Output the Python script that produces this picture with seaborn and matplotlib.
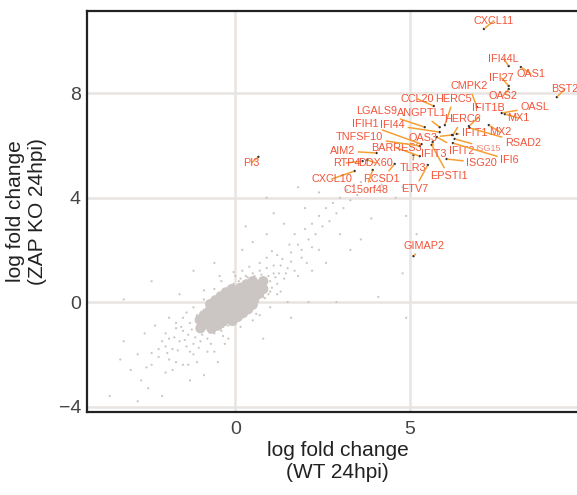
import matplotlib
matplotlib.use("Agg")
import matplotlib.pyplot as plt
import seaborn as sns
import pandas as pd

# labelled genes: point position and label position (log fold change)
genes = ["CXCL11", "IFI44L", "OAS1", "IFI27", "OAS2", "BST2", "CMPK2", "CCL20",
         "HERC5", "LGALS9", "ANGPTL1", "IFIT1B", "OASL", "MX1", "HERC6", "IFIT1",
         "OAS3", "IFIT2", "ISG15", "IFI6", "ISG20", "RSAD2", "MX2", "EPSTI1",
         "IFIT3", "BARRES3", "TNFSF10", "IFIH1", "IFI44", "AIM2", "PI3", "RTP4",
         "DDX60", "TLR3", "CXCL10", "RCSD1", "C15orf48", "ETV7", "GIMAP2"]
gene_wt = [7.13, 7.84, 8.19, 7.84, 7.84, 9.22, 6.93, 5.69,
           6.01, 5.43, 5.86, 6.70, 7.64, 7.73, 6.24, 6.35,
           6.21, 5.78, 6.29, 6.24, 6.06, 6.72, 7.27, 5.63,
           5.66, 5.29, 5.29, 5.34, 5.86, 4.05, 0.66, 3.65,
           3.79, 5.11, 3.42, 4.57, 3.94, 5.52, 5.11]
gene_ko = [10.46, 9.04, 9.00, 8.28, 8.16, 7.85, 7.47, 7.51,
           6.78, 6.70, 6.70, 6.74, 7.24, 7.20, 6.40, 6.44,
           6.40, 6.32, 6.25, 6.09, 5.48, 6.67, 6.78, 6.02,
           6.13, 5.59, 5.98, 6.05, 6.51, 5.71, 5.56, 5.40,
           5.44, 5.63, 5.02, 5.29, 5.06, 5.25, 1.76]
label_wt = [7.41, 7.70, 8.48, 7.64, 7.67, 9.45, 6.70, 5.23,
            6.26, 4.05, 5.34, 7.27, 8.59, 8.13, 6.52, 6.87,
            5.37, 6.49, 7.24, 7.87, 7.07, 8.25, 7.59, 6.12,
            5.69, 4.63, 3.56, 3.74, 4.51, 3.07, 0.46, 3.19,
            4.02, 5.09, 2.76, 4.20, 3.74, 5.14, 5.40]
label_ko = [10.77, 9.31, 8.74, 8.58, 7.89, 8.16, 8.28, 7.78,
            7.78, 7.32, 7.24, 7.43, 7.47, 7.05, 7.01, 6.48,
            6.28, 5.79, 5.90, 5.44, 5.33, 6.09, 6.51, 4.83,
            5.67, 5.90, 6.32, 6.82, 6.78, 5.79, 5.33, 5.33,
            5.33, 5.13, 4.71, 4.71, 4.29, 4.33, 2.15]

# background genes
# dense centre of the cloud
core_pts = [(-1.0, -1.0),
            (-0.85, -0.85), (-1.02, -0.68), (-0.68, -1.02),
            (-0.7, -0.7), (-0.9, -0.5), (-0.5, -0.9),
            (-0.55, -0.55), (-0.75, -0.35), (-0.35, -0.75),
            (-0.4, -0.4), (-0.6, -0.2), (-0.2, -0.6), (-0.72, -0.08), (-0.08, -0.72),
            (-0.25, -0.25), (-0.45, -0.05), (-0.05, -0.45), (-0.57, 0.07), (0.07, -0.57),
            (-0.1, -0.1), (-0.3, 0.1), (0.1, -0.3), (-0.42, 0.22), (0.22, -0.42),
            (0.05, 0.05), (-0.15, 0.25), (0.25, -0.15), (-0.27, 0.37), (0.37, -0.27),
            (0.2, 0.2), (0.0, 0.4), (0.4, 0.0), (-0.1, 0.5), (0.5, -0.1),
            (0.35, 0.35), (0.15, 0.55), (0.55, 0.15),
            (0.5, 0.5), (0.32, 0.68), (0.68, 0.32),
            (0.65, 0.65), (0.5, 0.8), (0.8, 0.5),
            (0.8, 0.8)]
# scattered genes around it
bg_pts = [(-1.6, -1.5), (-1.5, -1.1), (-1.4, -1.7), (-1.3, -0.8), (-1.2, -1.6),
          (-1.1, -0.5), (-1.0, -1.5), (-0.9, -0.3), (-0.8, -1.4), (-0.7, -0.1),
          (-0.6, -1.2), (-0.5, 0.2), (-0.4, -1.1), (-0.3, 0.4), (-0.2, -0.9),
          (-0.1, 0.6), (0.0, -0.7), (0.1, 0.8), (0.2, -0.5), (0.3, 1.0),
          (0.4, -0.3), (0.5, 1.1), (0.6, -0.1), (0.7, 1.2), (0.8, 0.2),
          (0.9, 1.3), (1.0, 0.4), (1.1, 1.1), (1.2, 0.7), (1.3, 1.4),
          (-1.7, -1.0), (-1.8, -1.8), (-0.9, 0.1), (-0.6, 0.5), (0.2, 1.2),
          (1.0, -0.2), (0.7, -0.5), (-0.2, -1.4), (-1.2, -2.0), (1.4, 0.9),
          (1.5, 1.3), (-1.9, -1.4), (-0.4, 0.8), (0.0, 1.0), (0.5, -0.7),
          (-0.8, -1.9), (1.2, 1.8), (0.9, 1.7), (-1.4, -0.4), (-2.0, -1.7),
          (-1.25, -1.05), (-1.15, -1.35), (-1.05, -0.75), (-0.95, -1.25), (-0.85, -0.35),
          (-0.75, -1.15), (-0.65, 0.05), (-0.55, -1.05), (-0.45, 0.35), (-0.35, -0.95),
          (-0.25, 0.5), (-0.15, -0.8), (-0.05, 0.7), (0.05, -0.6), (0.15, 0.9),
          (0.25, -0.45), (0.35, 0.95), (0.45, -0.35), (0.55, 1.0), (0.65, 0.0),
          (0.75, 1.05), (0.85, 0.15), (0.95, 1.0), (1.05, 0.55), (1.15, 0.95),
          (1.0, 0.8), (1.1, 1.4), (1.25, 1.1), (0.95, 0.3), (-1.35, -1.25),
          (-1.45, -1.45), (-1.55, -0.95), (-1.3, -1.9), (-1.65, -1.85), (-1.75, -1.35),
          (-2.1, -1.5), (-2.2, -2.1), (-1.95, -1.95), (-1.05, -1.75), (-0.7, -1.6),
          (-0.35, -1.3), (0.15, -0.95), (0.6, -0.45), (1.3, 0.4), (1.45, 1.1),
          (1.6, 1.55), (1.35, 1.65), (1.05, 1.95), (0.7, 1.5), (0.4, 1.35),
          (-0.05, 1.15), (-0.45, 1.0), (-0.9, 0.45), (-1.2, -0.2), (-1.5, -0.6),
          (1.7, 1.2), (1.9, 2.0), (2.05, 1.5), (2.2, 2.1), (1.55, 2.2),
          (-2.4, -1.95), (-2.55, -2.5), (-1.8, -2.6), (-1.35, -2.4),
          (-3.6, -3.6), (-2.5, -3.3), (-2.1, -3.6), (-2.7, -3.0), (-3.0, -2.6),
          (-3.3, -2.2), (-2.8, -2.0), (-2.4, -2.4), (-2.2, -1.8), (-2.0, -2.7),
          (-1.9, -2.2), (-1.7, -2.3), (-1.5, -2.4), (-1.1, -2.3), (-0.9, -2.8),
          (-0.6, -1.9), (-0.5, -2.3), (-0.3, -1.6), (-2.6, -1.2), (-2.3, -0.9),
          (-1.9, -0.6), (-3.2, -1.5), (-2.0, -1.2), (-1.7, -0.8), (-3.2, 0.1),
          (-1.6, 0.3), (-2.4, 0.8), (-1.2, 1.2), (-0.6, 1.5), (1.6, 1.9),
          (1.7, 2.6), (1.8, 2.2), (1.9, 1.7), (2.0, 2.8), (2.1, 2.4),
          (2.2, 3.0), (2.3, 2.6), (2.4, 3.3), (2.5, 2.9), (2.6, 3.6),
          (2.7, 3.1), (2.8, 3.8), (2.9, 3.4), (3.0, 4.0), (3.1, 3.6),
          (3.2, 4.3), (3.3, 3.9), (3.4, 4.5), (3.5, 4.1), (3.6, 4.6),
          (3.8, 4.3), (4.0, 4.8), (4.2, 4.5), (3.0, 2.6), (2.4, 2.0),
          (1.8, 1.0), (0.2, 2.0), (0.5, 2.3), (0.9, 2.6), (1.4, 3.0),
          (2.0, 3.6), (1.2, 0.3), (1.5, 0.0), (2.1, 0.0), (2.9, 0.0),
          (4.1, 0.2), (2.6, 1.5), (3.6, 2.4), (1.1, 3.4), (0.3, 2.9),
          (2.4, 4.2), (1.8, 4.4), (4.6, 4.0), (4.9, 3.3), (4.8, 4.4),
          (3.9, 3.2), (0.9, 4.0), (4.8, 1.1), (4.9, -0.6), (5.2, 2.6),
          (2.2, 1.2), (3.3, 2.0), (-2.8, -3.8), (-1.3, -3.0), (0.8, -1.4),
          (1.6, -0.6)]

GREY = "#cbc6c3"
RED = "#f2543a"
ORANGE = "#f5a033"

sns.set_style("white")
plt.rcParams["font.family"] = ["Liberation Sans", "DejaVu Sans"]

bg = pd.DataFrame(bg_pts, columns=["wt", "ko"])
core = pd.DataFrame(core_pts, columns=["wt", "ko"])
lab = pd.DataFrame({"gene": genes, "wt": gene_wt, "ko": gene_ko,
                    "lx": label_wt, "ly": label_ko})

fig = plt.figure(figsize=(5.77, 4.95), dpi=100)
ax = fig.add_axes([0.151, 0.1677, 1.02 - 0.151, 0.9778 - 0.1677])

sns.scatterplot(data=core, x="wt", y="ko", s=55, color=GREY, edgecolor="none", ax=ax)
sns.scatterplot(data=bg, x="wt", y="ko", s=2.5, color=GREY, edgecolor="none", ax=ax)
sns.scatterplot(data=lab, x="wt", y="ko", s=3, color="#333333", edgecolor="none",
                ax=ax, zorder=4)

for _, r in lab.iterrows():
    small = r.gene == "ISG15"
    ax.annotate(r.gene, xy=(r.wt, r.ko), xytext=(r.lx, r.ly),
                ha="center", va="center",
                fontsize=6.5 if small else 7.8,
                color="#f08878" if small else RED, zorder=5,
                arrowprops=dict(arrowstyle="-", color=ORANGE, lw=1.1,
                                shrinkA=0, shrinkB=1))

ax.set_xlim(-4.25, 10.13)
ax.set_ylim(-4.21, 11.15)
ax.set_xticks([0, 5])
ax.set_yticks([-4, 0, 4, 8])
ax.set_yticklabels(["\u22124", "0", "4", "8"])
ax.grid(True, color="#e8e4e1", lw=1.8)
ax.set_axisbelow(True)

for side in ["left", "top", "bottom"]:
    ax.spines[side].set_color("#222222")
    ax.spines[side].set_linewidth(1.6)
ax.spines["right"].set_visible(False)

ax.tick_params(axis="both", length=2.5, width=1.2, color="#333333",
               labelcolor="#444444", labelsize=14)
ax.tick_params(axis="x", pad=4)
ax.tick_params(axis="y", pad=2)

ax.set_xlabel("log fold change\n(WT 24hpi)", fontsize=15, color="#222222", labelpad=2)
ax.set_ylabel("log fold change\n(ZAP KO 24hpi)", fontsize=15, color="#222222", labelpad=8)

fig.savefig("out.png", dpi=100)
